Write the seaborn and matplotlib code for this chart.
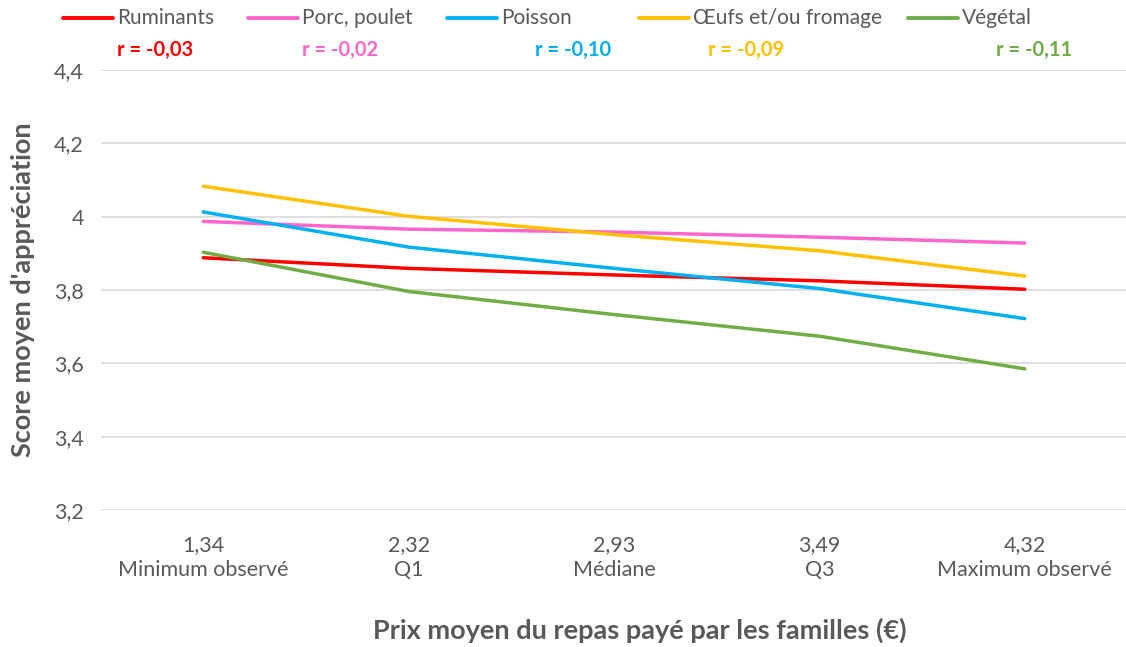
import matplotlib
matplotlib.use("Agg")
import matplotlib.pyplot as plt
import seaborn as sns
import pandas as pd
from matplotlib.lines import Line2D

prices = ["1,34", "2,32", "2,93", "3,49", "4,32"]
stats = ["Minimum observé", "Q1", "Médiane", "Q3", "Maximum observé"]
series = ["Ruminants", "Porc, poulet", "Poisson", "Œufs et/ou fromage", "Végétal"]
ruminants = [3.888, 3.859, 3.841, 3.825, 3.802]
porc = [3.987, 3.966, 3.958, 3.944, 3.928]
poisson = [4.013, 3.917, 3.859, 3.804, 3.722]
oeufs = [4.083, 4.001, 3.951, 3.907, 3.838]
vegetal = [3.903, 3.796, 3.733, 3.674, 3.585]
r_values = ["r = -0,03", "r = -0,02", "r = -0,10", "r = -0,09", "r = -0,11"]
colors = ["#FF0000", "#FF66CC", "#00B0F0", "#FFC000", "#70AD47"]

values = [ruminants, porc, poisson, oeufs, vegetal]
rows = []
for s, vals in zip(series, values):
    for i, v in enumerate(vals):
        rows.append({"pos": i, "serie": s, "score": v})
df = pd.DataFrame(rows)

sns.set_theme(style="white")
plt.rcParams["font.family"] = ["Lato", "DejaVu Sans"]

W, H = 1126, 647
fig = plt.figure(figsize=(W / 100, H / 100), dpi=100)
ax = fig.add_axes([100.5 / W, 1 - 510 / H, 1027 / W, 440 / H])

sns.lineplot(data=df, x="pos", y="score", hue="serie", hue_order=series,
             palette=colors, linewidth=2.5, ax=ax, legend=False,
             solid_capstyle="round")

ax.set_xlim(-0.5, 4.5)
ax.set_ylim(3.2, 4.4)
yt = [3.2, 3.4, 3.6, 3.8, 4.0, 4.2, 4.4]
ax.set_yticks(yt)
ax.set_yticklabels([f"{v:g}".replace(".", ",") for v in yt], color="#595959", fontsize=15.5)
ax.set_xticks(range(5))
ax.set_xticklabels([f"{p}\n{s}" for p, s in zip(prices, stats)], color="#595959",
                   fontsize=15.5, linespacing=1.3)
ax.tick_params(axis="x", length=0, pad=18)
ax.tick_params(axis="y", length=0, pad=12)
ax.grid(axis="y", color="#D9D9D9", linewidth=1.2)
ax.set_axisbelow(True)
for sp in ax.spines.values():
    sp.set_visible(False)

ax.set_xlabel("Prix moyen du repas payé par les familles (€)", fontsize=19.5,
              fontweight="bold", color="#595959")
ax.xaxis.set_label_coords(0.525, -0.245)
ax.set_ylabel("Score moyen d'appréciation", fontsize=19.5, fontweight="bold",
              color="#595959", labelpad=14)

# legend, drawn at the top of the figure
handle_x = [63, 248, 447, 639, 908]
r_x = [117, 302, 535, 708, 996]
for i, s in enumerate(series):
    x0 = handle_x[i]
    fig.add_artist(Line2D([x0 / W, (x0 + 50) / W], [1 - 18 / H, 1 - 18 / H],
                          color=colors[i], linewidth=2.8, transform=fig.transFigure))
    fig.text((x0 + 54) / W, 1 - 18 / H, s, fontsize=15, color="#595959",
             va="center", ha="left")
    fig.text(r_x[i] / W, 1 - 50 / H, r_values[i], fontsize=14.5, color=colors[i],
             fontweight="bold", va="center", ha="left")

fig.savefig("out.png", dpi=100)
